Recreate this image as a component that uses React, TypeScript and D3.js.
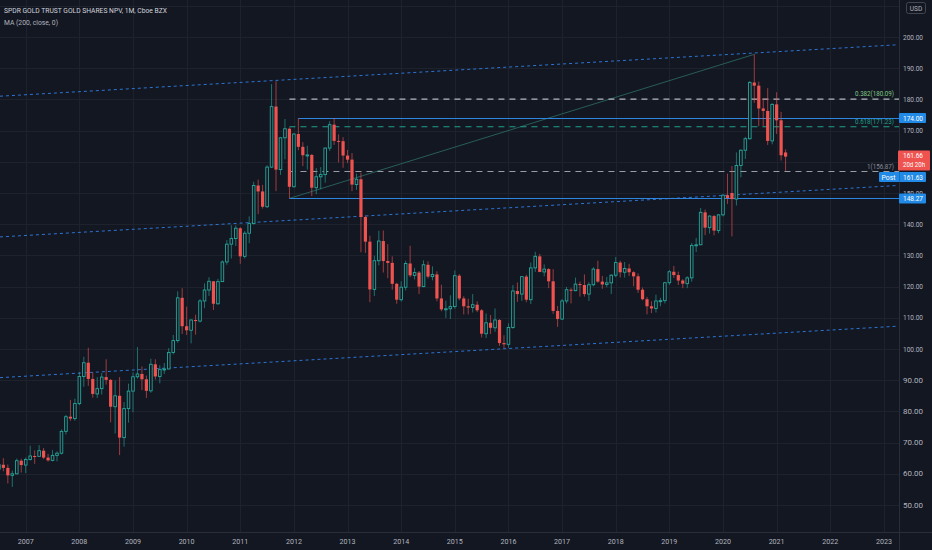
import React, { useEffect } from 'react';
import * as d3 from 'd3';

// GLD monthly candles, Jul 2006 .. Mar 2021
const firstMonth = new Date(2006, 6, 1);

const opens = [
  61.5, 62.9, 61.9, 59.5, 60.0, 64.2,
  62.8, 64.6, 65.7, 65.6, 67.4, 65.2, 64.3, 65.9, 66.6, 73.6, 78.3, 77.7,
  82.5, 91.2, 95.6, 90.4, 85.6, 87.3, 91.0, 90.1, 81.5, 85.0, 71.6, 80.9,
  86.5, 91.1, 92.0, 90.3, 86.6, 95.1, 91.2, 93.4, 93.6, 98.9, 102.7, 116.4,
  107.3, 106.0, 109.3, 108.95, 115.4, 118.9, 121.7, 114.5, 121.6, 127.9, 133.6, 135.4,
  138.7, 129.7, 137.1, 140.2, 152.4, 150.5, 145.6, 158.3, 177.7, 157.5, 167.7, 170.6,
  152.0, 168.9, 164.8, 162.1, 162.2, 151.7, 155.2, 155.9, 164.4, 171.9, 166.7, 166.6,
  162.0, 160.7, 152.7, 154.4, 142.3, 134.4, 119.1, 128.3, 134.6, 128.2, 127.6, 120.9,
  115.8, 119.8, 127.4, 123.6, 124.5, 120.0, 127.0, 123.2, 123.9, 116.2, 112.7, 112.9,
  113.6, 123.5, 116.2, 113.7, 113.3, 114.2, 112.4, 104.9, 108.4, 106.8, 109.3, 101.9,
  101.5, 106.9, 118.6, 117.6, 123.2, 115.8, 126.0, 129.7, 124.7, 125.6, 121.7, 112.2,
  109.6, 115.4, 119.0, 118.7, 120.8, 120.5, 117.6, 120.6, 125.6, 121.6, 120.7, 121.2,
  123.65, 127.7, 124.6, 125.8, 124.6, 123.3, 119.0, 115.95, 113.7, 113.0, 115.4, 115.5,
  121.25, 124.75, 123.7, 121.95, 120.95, 122.8, 133.2, 133.4, 143.8, 138.9, 142.6, 137.95,
  143.0, 149.3, 150.0, 148.05, 158.8, 163.7, 167.4, 185.4, 184.4, 177.1, 176.3, 166.7,
  178.4, 173.3, 163.0,
];

const highs = [
  65.6, 65.0, 63.0, 61.0, 64.9, 64.8,
  65.2, 69.0, 67.5, 69.2, 68.3, 66.4, 67.6, 67.2, 74.2, 78.9, 83.7, 84.1,
  92.6, 97.5, 100.4, 92.5, 91.0, 92.3, 96.7, 90.4, 89.9, 91.0, 83.0, 88.9,
  92.5, 100.6, 94.4, 91.5, 96.9, 96.7, 94.8, 95.5, 100.3, 104.5, 118.5, 119.5,
  113.6, 109.5, 111.0, 116.0, 121.0, 123.0, 121.7, 122.5, 128.4, 134.9, 139.7, 139.6,
  139.0, 137.8, 142.5, 153.6, 154.3, 152.6, 158.9, 184.9, 185.85, 167.9, 173.7, 171.0,
  169.2, 174.0, 166.3, 165.1, 162.5, 158.0, 158.3, 164.6, 173.0, 174.07, 168.8, 167.9,
  163.8, 162.8, 156.2, 156.5, 142.8, 136.3, 129.9, 137.9, 138.0, 133.6, 129.7, 121.2,
  121.7, 128.3, 133.1, 126.0, 125.0, 128.4, 128.1, 126.5, 124.9, 120.6, 115.5, 117.2,
  125.2, 124.0, 116.9, 116.1, 117.6, 115.3, 112.8, 111.4, 110.9, 113.0, 109.6, 104.4,
  108.2, 120.5, 121.3, 123.2, 123.8, 127.7, 131.15, 130.5, 127.1, 125.9, 125.6, 113.8,
  116.0, 119.9, 119.5, 122.9, 121.6, 123.9, 121.4, 126.2, 128.3, 123.4, 123.1, 124.0,
  129.5, 128.3, 127.9, 127.3, 124.9, 124.2, 119.7, 116.7, 115.3, 117.4, 116.4, 121.5,
  125.3, 126.6, 124.8, 122.4, 123.3, 134.0, 135.6, 145.2, 144.7, 142.9, 143.0, 143.2,
  149.6, 156.2, 158.65, 163.0, 164.0, 168.0, 185.9, 194.45, 185.7, 180.4, 183.6, 178.8,
  182.3, 176.0, 164.0,
];

const lows = [
  60.9, 60.8, 56.9, 55.8, 59.8, 60.4,
  60.2, 64.2, 63.2, 65.5, 64.7, 63.9, 64.0, 64.0, 66.2, 72.6, 77.0, 77.0,
  82.0, 87.9, 88.2, 84.4, 84.3, 85.4, 88.6, 76.5, 72.9, 66.0, 68.7, 76.4,
  79.7, 90.5, 86.8, 84.3, 86.0, 90.2, 89.0, 92.0, 93.5, 98.3, 102.0, 104.8,
  104.5, 101.8, 104.6, 108.5, 113.1, 117.0, 112.5, 114.2, 121.5, 127.0, 129.0, 133.0,
  127.3, 129.0, 133.9, 139.9, 143.2, 145.0, 145.2, 158.0, 150.6, 155.8, 160.8, 148.27,
  151.8, 163.7, 158.6, 157.5, 149.0, 149.6, 151.2, 153.3, 163.5, 165.4, 159.8, 158.1,
  159.6, 150.6, 151.0, 131.0, 130.8, 115.0, 117.0, 126.8, 124.5, 122.7, 119.0, 114.5,
  115.2, 118.8, 123.0, 122.3, 117.6, 119.8, 122.6, 122.0, 115.3, 112.1, 109.9, 109.6,
  112.9, 115.6, 111.1, 111.1, 111.7, 111.8, 103.7, 103.5, 104.8, 105.5, 101.0, 100.2,
  100.4, 106.5, 115.1, 115.4, 115.0, 114.4, 124.7, 124.6, 123.3, 119.5, 111.3, 107.1,
  109.3, 114.6, 114.6, 118.5, 116.8, 116.8, 115.4, 120.1, 121.2, 119.3, 119.8, 117.6,
  123.0, 122.9, 122.9, 123.4, 120.1, 118.0, 115.6, 111.1, 111.5, 111.7, 113.7, 114.6,
  120.5, 122.8, 120.5, 119.5, 119.5, 121.6, 131.1, 133.3, 136.5, 137.0, 136.4, 137.1,
  142.5, 146.5, 136.1, 146.0, 155.0, 160.9, 167.1, 178.9, 171.4, 171.5, 165.4, 165.6,
  168.9, 160.4, 157.1,
];

const closes = [
  62.9, 61.9, 59.5, 60.0, 64.2, 62.8,
  64.6, 65.7, 65.6, 67.4, 65.2, 64.3, 65.9, 66.6, 73.6, 78.3, 77.7, 82.5,
  91.2, 95.6, 90.4, 85.6, 87.3, 91.0, 90.1, 81.5, 85.0, 71.6, 80.9, 86.5,
  91.1, 92.0, 90.3, 86.6, 95.1, 91.2, 93.4, 93.6, 98.9, 102.7, 116.4, 107.3,
  106.0, 109.3, 108.95, 115.4, 118.9, 121.7, 114.5, 121.6, 127.9, 133.6, 135.4, 138.7,
  129.7, 137.1, 140.2, 152.4, 150.5, 145.6, 158.3, 177.7, 157.5, 167.7, 170.6, 152.0,
  168.9, 164.8, 162.1, 162.2, 151.7, 155.2, 155.9, 164.4, 171.9, 166.7, 166.6, 162.0,
  160.7, 152.7, 154.4, 142.3, 134.4, 119.1, 128.3, 134.6, 128.2, 127.6, 120.9, 115.8,
  119.8, 127.4, 123.6, 124.5, 120.0, 127.0, 123.2, 123.9, 116.2, 112.7, 112.9, 113.6,
  123.5, 116.2, 113.7, 113.3, 114.2, 112.4, 104.9, 108.4, 106.8, 109.3, 101.9, 101.5,
  106.9, 118.6, 117.6, 123.2, 115.8, 126.0, 129.7, 124.7, 125.6, 121.7, 112.2, 109.6,
  115.4, 119.0, 118.7, 120.8, 120.5, 117.6, 120.6, 125.6, 121.6, 120.7, 121.2, 123.65,
  127.7, 124.6, 125.8, 124.6, 123.3, 119.0, 115.95, 113.7, 113.0, 115.4, 115.5, 121.25,
  124.75, 123.7, 121.95, 120.95, 122.8, 133.2, 133.4, 143.8, 138.9, 142.6, 137.95, 143.0,
  149.3, 148.4, 148.05, 158.8, 163.7, 167.4, 185.4, 184.4, 177.1, 176.3, 166.7, 178.4,
  173.3, 162.1, 161.66,
];

const yearTicks = [2007, 2008, 2009, 2010, 2011, 2012, 2013, 2014, 2015, 2016, 2017, 2018, 2019, 2020, 2021, 2022, 2023];
const priceTicks = [50, 60, 70, 80, 90, 100, 110, 120, 130, 140, 150, 160, 170, 180, 190, 200, 210];
// 160 sits under the last-price badge, 210 under the currency badge
const hiddenTickLabels = [160, 210];

// drawings: parallel channel (upper edge anchors, offsets of other edges)
const channelUpper = [{ i: 0, v: 181.0 }, { i: 201, v: 197.5 }];
const channelOffsets = [0, -45.1, -90.2];

// fib retracement
const fibLevels = [
  { label: '0.382(180.09)', value: 180.09, line: '#b4b8c0', text: '#81c784', len: 39 },
  { label: '0.618(171.23)', value: 171.23, line: '#1f9e8b', text: '#1fa08c', len: 39 },
  { label: '1(156.87)', value: 156.87, line: '#9a9da6', text: '#8a8d96', len: 27 },
];
const fibTrend = [{ i: 65, v: 148.27 }, { i: 169, v: 194.45 }];

// horizontal rays
const rays = [{ i: 67, v: 174.0 }, { i: 65, v: 148.27 }];

const lastPrice = 161.66;
const postPrice = 161.63;

const W = 932;
const H = 550;
const plotRight = 899;
const plotBottom = 532;
const BG = '#131722';
const UP = '#26a69a';
const DOWN = '#ef5350';
const FONT = 'Roboto, "Liberation Sans", sans-serif';

const monthIndex = (year: number, month: number) =>
  d3.timeMonth.count(firstMonth, new Date(year, month, 1));

const App: React.FC = () => {
  useEffect(() => {
    document.body.style.margin = '0';
    document.body.style.background = BG;
  }, []);

  const x = d3.scaleLinear().domain([0, monthIndex(2020, 0)]).range([-1.1, 723]);
  const y = d3.scaleLinear().domain([50, 200]).range([505, 37]);

  const candles = closes.map((c, i) => {
    const o = opens[i];
    const prev = i > 0 ? closes[i - 1] : o;
    return {
      i,
      o,
      h: highs[i],
      l: lows[i],
      c,
      color: c >= prev ? UP : DOWN,
      filled: c < o,
    };
  });

  const chanLine = (off: number) => {
    const a = channelUpper[0];
    const b = channelUpper[1];
    const ext = (xx: number) => {
      const ii = x.invert(xx);
      return a.v + ((b.v - a.v) * (ii - a.i)) / (b.i - a.i) + off;
    };
    return { x1: 0, y1: y(ext(0)), x2: 897, y2: y(ext(897)) };
  };

  const fibX = x(fibTrend[0].i);
  const squeeze = { lengthAdjust: 'spacingAndGlyphs' as const };

  return (
    <svg width={W} height={H} style={{ display: 'block', background: BG, fontFamily: FONT }}>
      <defs>
        <clipPath id="plot">
          <rect x={0} y={0} width={plotRight} height={plotBottom} />
        </clipPath>
      </defs>
      <rect width={W} height={H} fill={BG} />

      {/* grid */}
      <g stroke="#1e222d" strokeWidth={1}>
        {priceTicks.map((p) => (
          <line key={p} x1={0} x2={plotRight} y1={Math.round(y(p)) + 0.5} y2={Math.round(y(p)) + 0.5} />
        ))}
        {yearTicks.map((yr) => {
          const xx = Math.round(x(monthIndex(yr, 0))) + 0.5;
          return <line key={yr} x1={xx} x2={xx} y1={0} y2={plotBottom} />;
        })}
      </g>

      <g clipPath="url(#plot)">
        {/* parallel channel */}
        {channelOffsets.map((off) => {
          const l = chanLine(off);
          return (
            <line key={off} {...l} stroke="#2d74d2" strokeWidth={1} strokeDasharray="3,3" />
          );
        })}

        {/* fib trend line */}
        <line
          x1={x(fibTrend[0].i)}
          y1={y(fibTrend[0].v)}
          x2={x(fibTrend[1].i)}
          y2={y(fibTrend[1].v)}
          stroke="#2d6e66"
          strokeWidth={0.8}
        />

        {/* fib levels */}
        {fibLevels.map((f) => (
          <line
            key={f.label}
            x1={fibX}
            x2={plotRight}
            y1={y(f.value)}
            y2={y(f.value)}
            stroke={f.line}
            strokeWidth={1.1}
            strokeDasharray="6,5"
          />
        ))}

        {/* horizontal rays */}
        {rays.map((r) => (
          <line
            key={r.v}
            x1={x(r.i)}
            x2={plotRight}
            y1={Math.round(y(r.v)) + 0.5}
            y2={Math.round(y(r.v)) + 0.5}
            stroke="#2e86de"
            strokeWidth={1}
          />
        ))}

        {/* candles */}
        {candles.map((d) => {
          const cx = x(d.i);
          const top = y(Math.max(d.o, d.c));
          const bot = y(Math.min(d.o, d.c));
          const bh = Math.max(1, bot - top);
          return (
            <g key={d.i}>
              <line
                x1={cx}
                x2={cx}
                y1={y(d.h)}
                y2={y(d.l)}
                stroke={d.color}
                strokeOpacity={0.7}
                strokeWidth={0.9}
              />
              {d.filled ? (
                <rect x={cx - 1.6} y={top} width={3.2} height={bh} fill={d.color} />
              ) : (
                <rect
                  x={cx - 1.3}
                  y={top}
                  width={2.6}
                  height={bh}
                  fill={BG}
                  stroke={d.color}
                  strokeWidth={0.9}
                />
              )}
            </g>
          );
        })}

        {/* fib labels */}
        {fibLevels.map((f) => (
          <text
            key={f.label}
            x={894 - f.len}
            y={y(f.value) - 3}
            fontSize={7.5}
            fill={f.text}
            textLength={f.len}
            {...squeeze}
          >
            {f.label}
          </text>
        ))}
      </g>

      {/* axes separators */}
      <line x1={plotRight + 0.5} x2={plotRight + 0.5} y1={0} y2={H} stroke="#2a2e39" />
      <line x1={0} x2={W} y1={plotBottom + 0.5} y2={plotBottom + 0.5} stroke="#2a2e39" />

      {/* price axis */}
      {priceTicks
        .filter((p) => !hiddenTickLabels.includes(p))
        .map((p) => (
          <text key={p} x={903} y={y(p) + 2.6} fontSize={7.5} fill="#b2b5be" textLength={20} {...squeeze}>
            {p.toFixed(2)}
          </text>
        ))}

      {/* time axis */}
      {yearTicks.map((yr) => (
        <text
          key={yr}
          x={x(monthIndex(yr, 0)) - 8}
          y={544}
          fontSize={7.5}
          fill="#b2b5be"
          textLength={16}
          {...squeeze}
        >
          {yr}
        </text>
      ))}

      {/* price labels */}
      {rays.map((r) => {
        const yy = y(r.v);
        return (
          <g key={r.v}>
            <rect x={899} y={yy - 5} width={27} height={10} rx={1} fill="#2189e6" />
            <text x={903} y={yy + 2.6} fontSize={7.5} fill="#ffffff" textLength={20} {...squeeze}>
              {r.v.toFixed(2)}
            </text>
          </g>
        );
      })}

      <rect x={898} y={y(lastPrice) - 6} width={32} height={20} rx={1} fill="#ef5350" />
      <text x={903} y={y(lastPrice) + 1.8} fontSize={7.5} fill="#ffffff" textLength={20} {...squeeze}>
        {lastPrice.toFixed(2)}
      </text>
      <text x={903} y={y(lastPrice) + 10.5} fontSize={7} fill="#ffffff" textLength={22} {...squeeze}>
        20d 20h
      </text>

      <rect x={879} y={172} width={47} height={10} rx={1} fill="#2189e6" />
      <line x1={899.5} x2={899.5} y1={172} y2={182} stroke="#1a6fc0" />
      <text x={881.5} y={179.6} fontSize={7.5} fill="#ffffff" textLength={14} {...squeeze}>
        Post
      </text>
      <text x={903} y={179.6} fontSize={7.5} fill="#ffffff" textLength={20} {...squeeze}>
        {postPrice.toFixed(2)}
      </text>

      {/* currency */}
      <rect x={906.5} y={2.5} width={19} height={11} rx={2} fill={BG} stroke="#434651" />
      <text x={916} y={10.5} textAnchor="middle" fontSize={6.5} fill="#b2b5be">
        USD
      </text>

      {/* legend */}
      <text x={4} y={13} fontSize={7.6} fill="#d1d4dc" textLength={163} {...squeeze}>
        SPDR GOLD TRUST GOLD SHARES NPV, 1M, Cboe BZX
      </text>
      <text x={4} y={25} fontSize={7.6} fill="#b2b5be" textLength={54} {...squeeze}>
        MA (200, close, 0)
      </text>
    </svg>
  );
};

export default App;
